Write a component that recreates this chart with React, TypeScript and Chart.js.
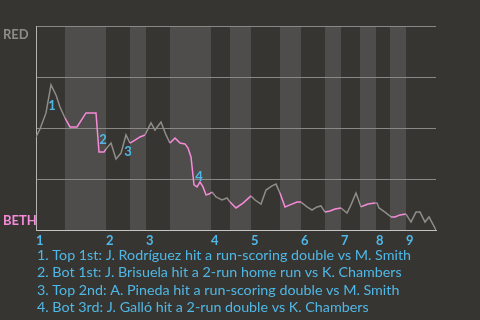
import React, { useEffect, useRef } from "react";
import { Chart, registerables } from "chart.js";

Chart.register(...registerables);

// Game progress (0-100) for each play, and RED win probability (%) after it
const progress = [
  0, 1, 2.5, 3.75, 5, 6, 7.25, 8.5, 10.25, 12.5, 15, 15.75, 17, 17.5, 18.75, 20, 21.25, 22.5, 23.5,
  24.75, 26, 27.25, 28.75, 29.75, 31.25, 32.5, 33.5, 34.75, 36, 37.25, 38, 38.75, 39.5, 40.25, 41,
  41.75, 42.5, 43.25, 44, 45, 46.5, 47.75, 48.5, 50, 51.75, 53.75, 54.75, 56.25, 57.5, 59, 60, 61,
  62.25, 63.5, 65.25, 66.25, 67.75, 69, 70.25, 71.25, 72.25, 73.5, 74.75, 76.25, 77.75, 78.75, 80,
  81.25, 81.75, 83, 84.75, 85.25, 85.75, 87.25, 88.75, 89.75, 91, 92.5, 93.75, 95, 96, 97.25, 98.25, 100,
];
const redWinProb = [
  45.6, 49.5, 57.4, 71.1, 66.2, 60.3, 54.9, 50.5, 50.5, 57.4, 57.4, 38.2, 38.2, 39.7, 42.6, 34.8,
  37.7, 46.6, 42.6, 44.1, 45.6, 46.6, 52.5, 49.0, 52.9, 46.6, 42.6, 45.1, 42.6, 42.2, 40.2, 35.8,
  22.1, 21.1, 23.5, 21.1, 17.2, 17.6, 18.6, 16.2, 14.7, 15.7, 13.7, 10.8, 13.2, 16.7, 14.7, 12.7,
  19.6, 21.6, 22.5, 18.1, 11.3, 12.3, 13.7, 13.7, 11.3, 9.8, 11.3, 11.8, 8.8, 9.3, 10.3, 10.8, 8.3,
  12.3, 18.1, 11.3, 11.8, 12.7, 13.2, 13.2, 10.8, 8.8, 6.4, 6.4, 7.4, 7.8, 3.9, 8.8, 8.8, 3.9, 6.4, 0,
];

// Start of each half-inning (game progress); even index = top, odd = bottom
const halfInningStarts = [
  0, 7.25, 17.5, 23.5, 27.5, 33.5, 43.75, 48.5, 53.75, 61, 66.25, 72.25, 76.25, 81, 85, 88.5, 92.5,
];
const gameEnd = 100;
const inningLabels = ["1", "2", "3", "4", "5", "6", "7", "8", "9"];

// Key plays
const eventLabels = ["1", "2", "3", "4"];
const eventX = [4, 16.75, 23, 40.75];
const eventY = [60.8, 44.1, 38.2, 26.0];
const eventTexts = [
  "1. Top 1st: J. Rodríguez hit a run-scoring double vs M. Smith",
  "2. Bot 1st: J. Brisuela hit a 2-run home run vs K. Chambers",
  "3. Top 2nd: A. Pineda hit a run-scoring double vs M. Smith",
  "4. Bot 3rd: J. Galló hit a 2-run double vs K. Chambers",
];

const topTeam = "RED";
const bottomTeam = "BETH";

const BG = "#373531";
const BAND = "#4e4d4b";
const GRAY = "#8f8d8a";
const PINK = "#f78ad9";
const BLUE = "#4fb8e6";
const FONT = "Lato, 'Noto Sans', sans-serif";

function halfIndex(x: number): number {
  let idx = 0;
  for (let i = 0; i < halfInningStarts.length; i++) {
    if (x >= halfInningStarts[i]) idx = i;
  }
  return idx;
}

export default function App() {
  const ref = useRef<HTMLCanvasElement | null>(null);

  useEffect(() => {
    if (!ref.current) return;
    const bandsPlugin = {
      id: "bands",
      beforeDraw(chart: any) {
        const { ctx, chartArea, scales } = chart;
        ctx.save();
        ctx.fillStyle = BG;
        ctx.fillRect(0, 0, chart.width, chart.height);
        const xs = scales.x;
        for (let i = 1; i < halfInningStarts.length; i += 2) {
          const a = xs.getPixelForValue(halfInningStarts[i]);
          const bVal = i + 1 < halfInningStarts.length ? halfInningStarts[i + 1] : gameEnd;
          const b = xs.getPixelForValue(bVal);
          ctx.fillStyle = BAND;
          ctx.fillRect(a, chartArea.top, b - a, chartArea.bottom - chartArea.top);
        }
        ctx.restore();
      },
      afterDraw(chart: any) {
        const { ctx, chartArea, scales } = chart;
        ctx.save();
        ctx.textAlign = "left";
        ctx.font = `bold 13px ${FONT}`;
        ctx.fillStyle = GRAY;
        ctx.textBaseline = "top";
        ctx.fillText(topTeam, 3, chartArea.top + 2);
        ctx.fillStyle = PINK;
        ctx.textBaseline = "bottom";
        ctx.fillText(bottomTeam, 3, chartArea.bottom - 3);

        ctx.fillStyle = BLUE;
        ctx.font = `bold 13px ${FONT}`;
        ctx.textAlign = "center";
        ctx.textBaseline = "middle";
        for (let i = 0; i < eventLabels.length; i++) {
          ctx.fillText(
            eventLabels[i],
            scales.x.getPixelForValue(eventX[i]),
            scales.y.getPixelForValue(eventY[i])
          );
        }
        ctx.textAlign = "left";
        ctx.font = `14.3px ${FONT}`;
        for (let i = 0; i < eventTexts.length; i++) {
          ctx.fillText(eventTexts[i], chartArea.left + 1, chartArea.bottom + 25 + i * 17.5);
        }
        ctx.restore();
      },
    };

    const chart = new Chart(ref.current, {
      type: "line",
      data: {
        datasets: [
          {
            data: progress.map((x, i) => ({ x, y: redWinProb[i] })),
            borderWidth: 1.5,
            pointRadius: 0,
            tension: 0,
            borderColor: GRAY,
            segment: {
              borderColor: (c: any) => {
                const mid = (c.p0.parsed.x + c.p1.parsed.x) / 2;
                return halfIndex(mid) % 2 === 1 ? PINK : GRAY;
              },
            },
          },
        ],
      },
      options: {
        animation: false,
        responsive: false,
        events: [],
        layout: { padding: { top: 26, right: 44, left: 0, bottom: 0 } },
        plugins: { legend: { display: false }, tooltip: { enabled: false } },
        scales: {
          x: {
            type: "linear",
            min: 0,
            max: gameEnd,
            grid: { display: false, drawTicks: false },
            border: { display: true, color: "#c4c3c0", width: 1 },
            afterBuildTicks: (s: any) => {
              s.ticks = halfInningStarts.filter((_, i) => i % 2 === 0).map((v) => ({ value: v }));
            },
            afterFit: (s: any) => {
              s.height = 90;
            },
            ticks: {
              autoSkip: false,
              maxRotation: 0,
              align: "start",
              padding: 3,
              color: BLUE,
              font: { family: FONT, size: 13, weight: "bold" },
              callback: (_v: any, i: number) => inningLabels[i],
            },
          },
          y: {
            min: 0,
            max: 100,
            ticks: { display: false, stepSize: 25 },
            grid: { color: "#8a8884", lineWidth: 1, drawTicks: false },
            border: { display: true, color: "#b5b4b1", width: 1 },
            afterFit: (s: any) => {
              s.width = 36;
            },
          },
        },
      },
      plugins: [bandsPlugin],
    } as any);
    return () => chart.destroy();
  }, []);

  return (
    <div style={{ position: "fixed", left: 0, top: 0, width: 480, height: 320, background: BG }}>
      <canvas ref={ref} width={480} height={320} />
    </div>
  );
}
